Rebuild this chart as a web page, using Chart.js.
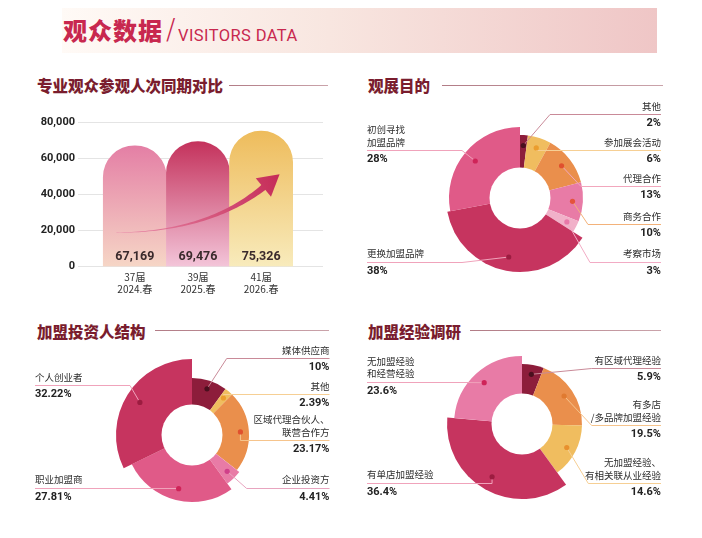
<!DOCTYPE html>
<html lang="zh-CN">
<head>
  <meta charset="UTF-8" />
  <title>观众数据</title>
  <script src="https://cdn.jsdelivr.net/npm/chart.js"></script>
  <style>
    body { margin: 0; background: #fff; font-family: "Noto Sans CJK SC", "Noto Sans", sans-serif; }
    #page { position: relative; width: 702px; height: 538px; overflow: hidden; }
    .banner { position: absolute; left: 62px; top: 8px; width: 595px; height: 45px;
      background: linear-gradient(90deg, #fffaf6 0%, #f8e6e0 45%, #efc6c6 100%); }
    .title-cn { position: absolute; left: 63px; top: 15px; font-size: 24px; line-height: 30px;
      font-weight: 900; color: #c8284f; letter-spacing: 1px; }
    .title-slash { position: absolute; left: 166px; top: 14px; font-size: 28px; line-height: 32px;
      font-family: "DejaVu Sans", sans-serif; font-weight: 200; color: #c8284f; }
    .title-en { position: absolute; left: 178px; top: 27px; font-size: 16.5px; line-height: 18px;
      font-family: Roboto, sans-serif; color: #c8284f; letter-spacing: 0.4px; }
    .sec { position: absolute; font-size: 15.5px; line-height: 20px; font-weight: 900; color: #7a1d2e; }
    .rule { position: absolute; height: 1px; background: linear-gradient(90deg, #b27c86, #caa3aa); }
    .box { position: absolute; }
    .lbl { position: absolute; font-size: 9.5px; line-height: 12.5px; color: #2d2d2d; white-space: nowrap; }
    .pct { position: absolute; font-family: Roboto, sans-serif; font-size: 11px; line-height: 12.5px;
      font-weight: 700; color: #222; white-space: nowrap; }
  </style>
</head>
<body>
  <div id="page">
    <div class="banner"></div>
    <div class="title-cn">观众数据</div>
    <div class="title-slash">/</div>
    <div class="title-en">VISITORS DATA</div>

    <div class="sec" style="left:37px; top:75px;">专业观众参观人次同期对比</div>
    <div class="rule" style="left:229px; top:85px; width:99px;"></div>
    <div class="sec" style="left:368px; top:75px;">观展目的</div>
    <div class="rule" style="left:442px; top:85px; width:221px;"></div>
    <div class="sec" style="left:37px; top:321px;">加盟投资人结构</div>
    <div class="rule" style="left:155px; top:330px; width:174px;"></div>
    <div class="sec" style="left:368px; top:321px;">加盟经验调研</div>
    <div class="rule" style="left:470px; top:330px; width:191px;"></div>

    <div class="box" style="left:20px; top:108px; width:310px; height:192px;"><canvas id="barChart"></canvas></div>
    <div class="box" style="left:350px; top:92px; width:352px; height:200px;"><canvas id="purposeChart"></canvas></div>
    <div class="box" style="left:20px; top:335px; width:330px; height:200px;"><canvas id="investorChart"></canvas></div>
    <div class="box" style="left:350px; top:335px; width:352px; height:200px;"><canvas id="expChart"></canvas></div>
  </div>

  <script>
    // ---- data ----
    const barLabels = [['37届', '2024.春'], ['39届', '2025.春'], ['41届', '2026.春']];
    const barValues = [67169, 69476, 75326];
    const yTicks = [0, 20000, 40000, 60000, 80000];

    const purposeLabels = [['其他'], ['参加展会活动'], ['代理合作'], ['商务合作'], ['考察市场'], ['更换加盟品牌'], ['初创寻找', '加盟品牌']];
    const purposePct = [2, 6, 13, 10, 3, 38, 28];
    const purposeRadius = [63, 63, 63, 63, 63, 74, 71];

    const investorLabels = [['媒体供应商'], ['其他'], ['区域代理合伙人、', '联营合作方'], ['企业投资方'], ['职业加盟商'], ['个人创业者']];
    const investorPct = [10, 2.39, 23.17, 4.41, 27.81, 32.22];
    const investorRadius = [57, 57, 57, 60, 67, 76];

    const expLabels = [['有区域代理经验'], ['有多店', '/多品牌加盟经验'], ['无加盟经验、', '有相关联从业经验'], ['有单店加盟经验'], ['无加盟经验', '和经营经验']];
    const expPct = [5.9, 19.5, 14.6, 36.4, 23.6];
    const expRadius = [60, 60, 60, 75, 68];

    // ---- colours ----
    const DARK = '#8d1d3b', YEL = '#f0bd5f', ORA = '#ea8f4c', PINK = '#e87ba6', LPINK = '#f1b1c9', CRIM = '#c6345f', ROSE = '#e05a88';

    Chart.defaults.font.family = '"Noto Sans CJK SC", sans-serif';
    Chart.defaults.animation = false;

    // ---- bar chart ----
    const barTop = ['#e47fa5', '#c4325c', '#eebc5c'];
    const barBottom = ['#f6d6c6', '#f3c5d9', '#f8ebbc'];

    const barDecor = {
      id: 'barDecor',
      afterDatasetsDraw(chart) {
        const ctx = chart.ctx, xs = chart.scales.x, ys = chart.scales.y;
        const px = (p) => ({ x: xs.getPixelForValue(p[0]), y: ys.getPixelForValue(p[1]) });
        // rising arrow
        const S = px([-0.29, 18900]), C = px([1.18, 19300]), B = px([2.06, 44700]);
        const up = [], down = [];
        for (let i = 0; i <= 50; i++) {
          const t = i / 50, u = 1 - t;
          const x = u * u * S.x + 2 * u * t * C.x + t * t * B.x;
          const y = u * u * S.y + 2 * u * t * C.y + t * t * B.y;
          let tx = 2 * u * (C.x - S.x) + 2 * t * (B.x - C.x);
          let ty = 2 * u * (C.y - S.y) + 2 * t * (B.y - C.y);
          const l = Math.hypot(tx, ty); tx /= l; ty /= l;
          const w = (0.4 + 6 * Math.pow(t, 1.6)) / 2;
          up.push([x - ty * w, y + tx * w]);
          down.push([x + ty * w, y - tx * w]);
        }
        let dx = B.x - C.x, dy = B.y - C.y;
        const dl = Math.hypot(dx, dy); dx /= dl; dy /= dl;
        const tip = { x: B.x + dx * 19, y: B.y + dy * 19 };
        const g = ctx.createLinearGradient(S.x, S.y, tip.x, tip.y);
        g.addColorStop(0, '#e98bab');
        g.addColorStop(1, '#c52b57');
        ctx.save();
        ctx.fillStyle = g;
        ctx.beginPath();
        up.forEach((p, i) => i ? ctx.lineTo(p[0], p[1]) : ctx.moveTo(p[0], p[1]));
        down.reverse().forEach((p) => ctx.lineTo(p[0], p[1]));
        ctx.closePath();
        ctx.fill();
        ctx.beginPath();
        ctx.moveTo(tip.x, tip.y);
        ctx.lineTo(B.x - dy * 12 - dx * 2, B.y + dx * 12 - dy * 2);
        ctx.lineTo(B.x + dy * 12 - dx * 2, B.y - dx * 12 - dy * 2);
        ctx.closePath();
        ctx.fill();
        // values inside bars
        ctx.font = 'bold 12.5px Roboto';
        ctx.fillStyle = '#3a2a2c';
        ctx.textAlign = 'center';
        ctx.textBaseline = 'middle';
        chart.getDatasetMeta(0).data.forEach((bar, i) => {
          ctx.fillText(barValues[i].toLocaleString('en-US'), bar.x, ys.getPixelForValue(0) - 10);
        });
        ctx.restore();
      }
    };

    new Chart(document.getElementById('barChart'), {
      type: 'bar',
      data: {
        datasets: [{
          data: barValues.map((v, i) => ({ x: i, y: v })),
          backgroundColor: (c) => {
            const chart = c.chart, area = chart.chartArea;
            if (!area || !c.parsed) return barTop[c.dataIndex];
            const top = chart.scales.y.getPixelForValue(c.parsed.y);
            const g = chart.ctx.createLinearGradient(0, top, 0, area.bottom);
            g.addColorStop(0, barTop[c.dataIndex]);
            g.addColorStop(1, barBottom[c.dataIndex]);
            return g;
          },
          borderWidth: 0,
          borderSkipped: 'bottom',
          borderRadius: { topLeft: 40, topRight: 40, bottomLeft: 0, bottomRight: 0 },
          barPercentage: 1,
          categoryPercentage: 1
        }]
      },
      options: {
        responsive: true,
        maintainAspectRatio: false,
        layout: { padding: { top: 14.7, right: 7, left: 0, bottom: 0 } },
        plugins: { legend: { display: false }, tooltip: { enabled: false } },
        scales: {
          x: {
            type: 'linear', min: -0.9, max: 2.98, offset: false,
            grid: { display: false, drawTicks: false, offset: false },
            border: { display: false },
            afterBuildTicks: (s) => { s.ticks = barLabels.map((_, i) => ({ value: i })); },
            afterFit: (s) => { s.height = 33.3; },
            ticks: {
              padding: 5, color: '#333', font: { size: 10, lineHeight: 1.2 },
              autoSkip: false, maxRotation: 0,
              callback: (v) => barLabels[v]
            }
          },
          y: {
            min: 0, max: 80000,
            afterBuildTicks: (s) => { s.ticks = yTicks.map((v) => ({ value: v })); },
            afterFit: (s) => { s.width = 58; },
            grid: { color: '#e4e4e4', drawTicks: false },
            border: { display: false },
            ticks: {
              padding: 3, color: '#222', font: { family: 'Roboto', size: 11, weight: 'bold' },
              callback: (v) => v.toLocaleString('en-US')
            }
          }
        }
      },
      plugins: [barDecor]
    });

    // ---- donuts ----
    const page = document.getElementById('page');

    function leaderPlugin(cfg) {
      return {
        id: 'leaders',
        afterDatasetsDraw(chart) {
          const ctx = chart.ctx, r = chart.scales.r;
          ctx.save();
          ctx.fillStyle = '#fff';
          ctx.beginPath();
          ctx.arc(r.xCenter, r.yCenter, cfg.hole, 0, Math.PI * 2);
          ctx.fill();
          chart.getDatasetMeta(0).data.forEach((arc, i) => {
            const row = cfg.rows[i];
            const mid = (arc.startAngle + arc.endAngle) / 2;
            const rr = cfg.hole + 0.68 * (arc.outerRadius - cfg.hole);
            const dx = arc.x + Math.cos(mid) * rr, dy = arc.y + Math.sin(mid) * rr;
            const ly = Math.round(row.y - cfg.box.top) + 0.5;
            const ex = row.ex == null ? dx : row.ex - cfg.box.left;
            const endX = (row.side === 'L' ? cfg.leftX : cfg.rightX) - cfg.box.left;
            ctx.strokeStyle = cfg.lineColors[i];
            ctx.lineWidth = 1;
            ctx.beginPath();
            ctx.moveTo(dx, dy);
            ctx.lineTo(ex, ly);
            ctx.lineTo(endX, ly);
            ctx.stroke();
            ctx.fillStyle = cfg.dotColors[i];
            ctx.beginPath();
            ctx.arc(dx, dy, 2.6, 0, Math.PI * 2);
            ctx.fill();
          });
          ctx.restore();
        }
      };
    }

    function makeDonut(cfg) {
      const half = 80, b = cfg.box;
      new Chart(document.getElementById(cfg.id), {
        type: 'polarArea',
        data: {
          labels: cfg.labels.map((l) => l.join('')),
          datasets: [{
            data: cfg.radius,
            angle: cfg.pct.map((p) => p * 3.6),
            backgroundColor: cfg.colors,
            borderWidth: 0
          }]
        },
        options: {
          responsive: true,
          maintainAspectRatio: false,
          layout: {
            padding: {
              left: cfg.cx - half - b.left,
              top: cfg.cy - half - b.top,
              right: b.left + b.w - cfg.cx - half,
              bottom: b.top + b.h - cfg.cy - half
            }
          },
          scales: { r: { display: false, min: 0, max: half } },
          plugins: { legend: { display: false }, tooltip: { enabled: false } }
        },
        plugins: [leaderPlugin(cfg)]
      });

      cfg.rows.forEach((row, i) => {
        const t = document.createElement('div');
        const p = document.createElement('div');
        t.className = 'lbl';
        p.className = 'pct';
        t.innerHTML = cfg.labels[i].join('<br>');
        p.textContent = cfg.pct[i] + '%';
        if (row.side === 'L') {
          t.style.left = p.style.left = cfg.leftX + 'px';
        } else {
          t.style.right = p.style.right = (702 - cfg.rightX) + 'px';
          t.style.textAlign = p.style.textAlign = 'right';
        }
        t.style.bottom = (538 - row.y + 2) + 'px';
        p.style.top = (row.y + 3) + 'px';
        page.appendChild(t);
        page.appendChild(p);
      });
    }

    makeDonut({
      id: 'purposeChart', box: { left: 350, top: 92, w: 352, h: 200 }, cx: 520.5, cy: 198.3, hole: 30.5,
      labels: purposeLabels, pct: purposePct, radius: purposeRadius,
      colors: [DARK, YEL, ORA, PINK, LPINK, CRIM, ROSE],
      dotColors: ['#4a0f1e', '#eb9d2e', '#e0502e', '#e4533c', '#e878a8', '#9c1c40', '#cf2458'],
      lineColors: ['#c98a98', '#f6cf94', '#f2a7bd', '#f3b27a', '#f2abc4', '#f0a3bb', '#f0a3bb'],
      leftX: 367, rightX: 661,
      rows: [
        { side: 'R', y: 114, ex: 550 },
        { side: 'R', y: 150, ex: null },
        { side: 'R', y: 186, ex: 581 },
        { side: 'R', y: 224.3, ex: 588 },
        { side: 'R', y: 261.7, ex: 590 },
        { side: 'L', y: 261.7, ex: 462 },
        { side: 'L', y: 150, ex: 462 }
      ]
    });

    makeDonut({
      id: 'investorChart', box: { left: 20, top: 335, w: 330, h: 200 }, cx: 192.8, cy: 435.8, hole: 30.5,
      labels: investorLabels, pct: investorPct, radius: investorRadius,
      colors: [DARK, YEL, ORA, PINK, ROSE, CRIM],
      dotColors: ['#4a0f1e', '#eb9d2e', '#e0502e', '#d0408a', '#cf2458', '#9c1c40'],
      lineColors: ['#c98a98', '#f6cf94', '#f6c48c', '#e8a4bf', '#f0a3bb', '#f0a3bb'],
      leftX: 35, rightX: 329.5,
      rows: [
        { side: 'R', y: 358.3, ex: 226.7 },
        { side: 'R', y: 394, ex: null },
        { side: 'R', y: 440, ex: null },
        { side: 'R', y: 487.7, ex: 246.7 },
        { side: 'L', y: 487.7, ex: null },
        { side: 'L', y: 385, ex: 130 }
      ]
    });

    makeDonut({
      id: 'expChart', box: { left: 350, top: 335, w: 352, h: 200 }, cx: 522.2, cy: 424.7, hole: 30.5,
      labels: expLabels, pct: expPct, radius: expRadius,
      colors: [DARK, ORA, YEL, CRIM, PINK],
      dotColors: ['#4a0f1e', '#e07a30', '#e8902e', '#9c1c40', '#cf2458'],
      lineColors: ['#c98a98', '#f6c48c', '#f6cf94', '#f0a3bb', '#f0a3bb'],
      leftX: 367, rightX: 661,
      rows: [
        { side: 'R', y: 368.3, ex: 591.7 },
        { side: 'R', y: 425, ex: 591.7 },
        { side: 'R', y: 483.3, ex: 588.3 },
        { side: 'L', y: 482.7, ex: null },
        { side: 'L', y: 381.7, ex: 462 }
      ]
    });
  </script>
</body>
</html>
